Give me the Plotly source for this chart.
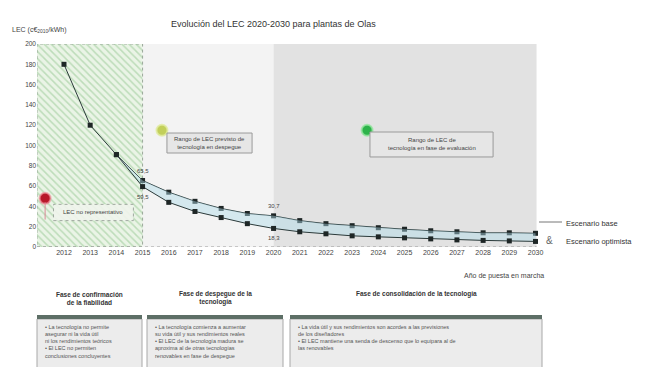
import plotly.graph_objects as go

# ---------------- data ----------------
years_base = list(range(2012, 2031))
lec_base = [180, 120, 91, 65.5, 54, 45, 38, 33, 30.7, 26, 23, 21, 19, 17.5, 16, 15, 14, 14, 13.5]
years_opt = list(range(2014, 2031))
lec_opt = [91, 59.5, 44, 35, 29, 23, 18.3, 15, 13, 11, 10, 9, 8, 7, 6.5, 6, 5.5]
tick_years = list(range(2012, 2031))
y_ticks = list(range(0, 201, 20))

label_points = [(2015, 65.5, "65,5", "above"), (2015, 59.5, "59,5", "below"),
                (2020, 30.7, "30,7", "above"), (2020, 18.3, "18,3", "below")]

# ---------------- layout geometry (reference pixels) ----------------
OFF = 8                      # page body margin of the browser
W, H = 646 - OFF, 367 - OFF  # figure size
PL, PR, PT, PB = 37, 546, 44, 247   # plot area in reference pixels
XMIN, XMAX = 2010.97, 2030.4

def px(x):
    return (x - PL) / (PR - PL)

def py(y):
    return (PB - y) / (PB - PT)

FONT = "Liberation Sans, Arial, sans-serif"
TXT = "#444444"

fig = go.Figure()

# hatched green region (fase de confirmación)
fig.add_trace(go.Scatter(
    x=[XMIN, 2015, 2015, XMIN, XMIN], y=[0, 0, 200, 200, 0],
    mode="lines", fill="toself",
    fillcolor="#eaf4e6",
    fillpattern=dict(shape="\\", fgcolor="#8fc48c", bgcolor="#eaf4e6", size=5, solidity=0.3),
    line=dict(color="#9aa89a", width=1, dash="dot"),
    hoverinfo="skip", showlegend=False))

# base scenario
fig.add_trace(go.Scatter(
    x=years_base, y=lec_base, mode="lines+markers",
    line=dict(color="#2b3a3a", width=1),
    marker=dict(symbol="square", size=5, color="#1e2626"),
    showlegend=False, hoverinfo="skip"))
# optimistic scenario, filled band to base
fig.add_trace(go.Scatter(
    x=years_opt, y=lec_opt, mode="lines+markers",
    line=dict(color="#2b3a3a", width=1),
    marker=dict(symbol="square", size=5, color="#1e2626"),
    showlegend=False, hoverinfo="skip"))
fig.add_trace(go.Scatter(
    x=years_base[2:], y=lec_base[2:], mode="lines",
    line=dict(width=0), fill="tonexty", fillcolor="rgba(175,220,232,0.45)",
    showlegend=False, hoverinfo="skip"))

# bullet circles
fig.add_trace(go.Scatter(
    x=[2011.28, 2015.74, 2023.57], y=[48, 115, 115], mode="markers",
    marker=dict(size=11, color=["#b8182a", "#c2cf5a", "#2db34a"],
                line=dict(width=2, color=["rgba(240,150,160,0.7)", "rgba(225,235,160,0.8)", "rgba(150,230,160,0.8)"])),
    showlegend=False, hoverinfo="skip"))

shapes = [
    dict(type="rect", xref="x", yref="y", x0=2015, x1=2020, y0=0, y1=200,
         fillcolor="#f3f3f3", line=dict(width=0), layer="below"),
    dict(type="rect", xref="x", yref="y", x0=2020, x1=2030.04, y0=0, y1=200,
         fillcolor="#e2e2e2", line=dict(width=0), layer="below"),
    # x axis dotted baseline
    dict(type="line", xref="x", yref="y", x0=XMIN, x1=2030.04, y0=0, y1=0,
         line=dict(color="#999999", width=1, dash="dot")),
    # red pointer line
    dict(type="line", xref="x", yref="y", x0=2011.28, x1=2011.28, y0=44, y1=27,
         line=dict(color="#d98a95", width=1)),
    # annotation boxes
    dict(type="rect", xref="x", yref="y", x0=2011.6, x1=2014.65, y0=26, y1=42,
         fillcolor="rgba(240,244,236,0.9)", line=dict(color="#a0a8a0", width=1, dash="dot")),
    dict(type="rect", xref="x", yref="y", x0=2015.93, x1=2019.18, y0=92.6, y1=112.3,
         fillcolor="#e6e6e6", line=dict(color="#9a9a9a", width=1)),
    dict(type="rect", xref="x", yref="y", x0=2023.68, x1=2028.38, y0=88.7, y1=113.3,
         fillcolor="#e6e6e6", line=dict(color="#9a9a9a", width=1)),
    # legend connector line
    dict(type="line", xref="paper", yref="paper", x0=px(539), x1=px(562), y0=py(222), y1=py(222),
         line=dict(color="#777777", width=1)),
]

annotations = [
    dict(text="LEC no representativo", x=2013.1, y=34, xref="x", yref="y", showarrow=False,
         xanchor="center", font=dict(size=6, color=TXT, family=FONT)),
    dict(text="Rango de LEC previsto de<br>tecnología en despegue", x=2017.55, y=102.5, xref="x", yref="y",
         xanchor="center", showarrow=False, font=dict(size=6, color=TXT, family=FONT)),
    dict(text="Rango de LEC de<br>tecnología en fase de evaluación", x=2026.03, y=101, xref="x", yref="y",
         xanchor="center", showarrow=False, font=dict(size=6, color=TXT, family=FONT)),
    # title and axis titles
    dict(text="Evolución del LEC 2020-2030 para plantas de Olas", xref="paper", yref="paper",
         x=px(273), y=py(24), xanchor="center", yanchor="middle", showarrow=False,
         font=dict(size=9, color="#333333", family=FONT)),
    dict(text="LEC (c€<sub>2010</sub>/kWh)", xref="paper", yref="paper", x=px(10), y=py(30),
         xanchor="left", yanchor="middle", showarrow=False, font=dict(size=7, color=TXT, family=FONT)),
    dict(text="Año de puesta en marcha", xref="paper", yref="paper", x=px(546), y=py(276),
         xanchor="right", yanchor="middle", showarrow=False, font=dict(size=7, color=TXT, family=FONT)),
    # legend texts
    dict(text="Escenario base", xref="paper", yref="paper", x=px(564), y=py(223),
         xanchor="left", yanchor="middle", showarrow=False, font=dict(size=7.5, color="#333333", family=FONT)),
    dict(text="Escenario optimista", xref="paper", yref="paper", x=px(564), y=py(241),
         xanchor="left", yanchor="middle", showarrow=False, font=dict(size=7.5, color="#333333", family=FONT)),
    dict(text="&", xref="paper", yref="paper", x=px(549), y=py(240), xanchor="center", yanchor="middle",
         showarrow=False, font=dict(size=10, color="#666666", family=FONT)),
]

for xv, yv, lab, pos in label_points:
    annotations.append(dict(text=lab, x=xv, y=yv, xref="x", yref="y", showarrow=False,
                            xanchor="center", yshift=10 if pos == "above" else -10,
                            font=dict(size=6, color=TXT, family=FONT)))

# ---------------- bottom phase boxes ----------------
phases = [
    ("<b>Fase de confirmación<br>de la fiabilidad</b>", 37, 142, 298,
     "• La tecnología no permite<br>asegurar ni la vida útil<br>ni los rendimientos teóricos<br>• El LEC no permiten<br>conclusiones concluyentes"),
    ("<b>Fase de despegue de la<br>tecnología</b>", 147, 283, 298,
     "• La tecnología comienza a aumentar<br>su vida útil y sus rendimientos reales<br>• El LEC de la tecnología madura se<br>aproxima al de otras tecnologías<br>renovables en fase de despegue"),
    ("<b>Fase de consolidación de la tecnología</b>", 290, 542, 294,
     "• La vida útil y sus rendimientos son acordes a las previsiones<br>de los diseñadores<br>• El LEC mantiene una senda de descenso que lo equipara al de<br>las renovables"),
]
for head, x0, x1, hy, body in phases:
    shapes.append(dict(type="rect", xref="paper", yref="paper", x0=px(x0), x1=px(x1),
                       y0=py(372), y1=py(319), fillcolor="#ececec",
                       line=dict(color="#a8a8a8", width=1)))
    shapes.append(dict(type="rect", xref="paper", yref="paper", x0=px(x0), x1=px(x1),
                       y0=py(319), y1=py(315), fillcolor="#5d6f66", line=dict(width=0)))
    annotations.append(dict(text=head, xref="paper", yref="paper", x=px((x0 + x1) / 2),
                            y=py(hy), xanchor="center", yanchor="middle", showarrow=False,
                            font=dict(size=6.5, color="#333333", family=FONT)))
    annotations.append(dict(text=body, xref="paper", yref="paper", x=px(x0 + 6), y=py(322),
                            xanchor="left", yanchor="top", align="left", showarrow=False,
                            font=dict(size=5.5, color="#555555", family=FONT)))

fig.update_layout(
    width=W, height=H, autosize=False,
    margin=dict(l=PL - OFF, r=W - (PR - OFF), t=PT - OFF, b=H - (PB - OFF), pad=0, autoexpand=False),
    paper_bgcolor="white", plot_bgcolor="white",
    shapes=shapes, annotations=annotations,
    xaxis=dict(range=[XMIN, XMAX], tickmode="array", tickvals=tick_years, automargin=False,
               ticktext=[str(y) for y in tick_years], showgrid=False, zeroline=False,
               showline=False, ticks="", tickfont=dict(size=7, color=TXT, family=FONT)),
    yaxis=dict(range=[0, 200], tickmode="array", tickvals=y_ticks, showgrid=False, automargin=False,
               zeroline=False, showline=False, ticks="",
               tickfont=dict(size=6.5, color=TXT, family=FONT)),
)

fig.write_html("out.html")
